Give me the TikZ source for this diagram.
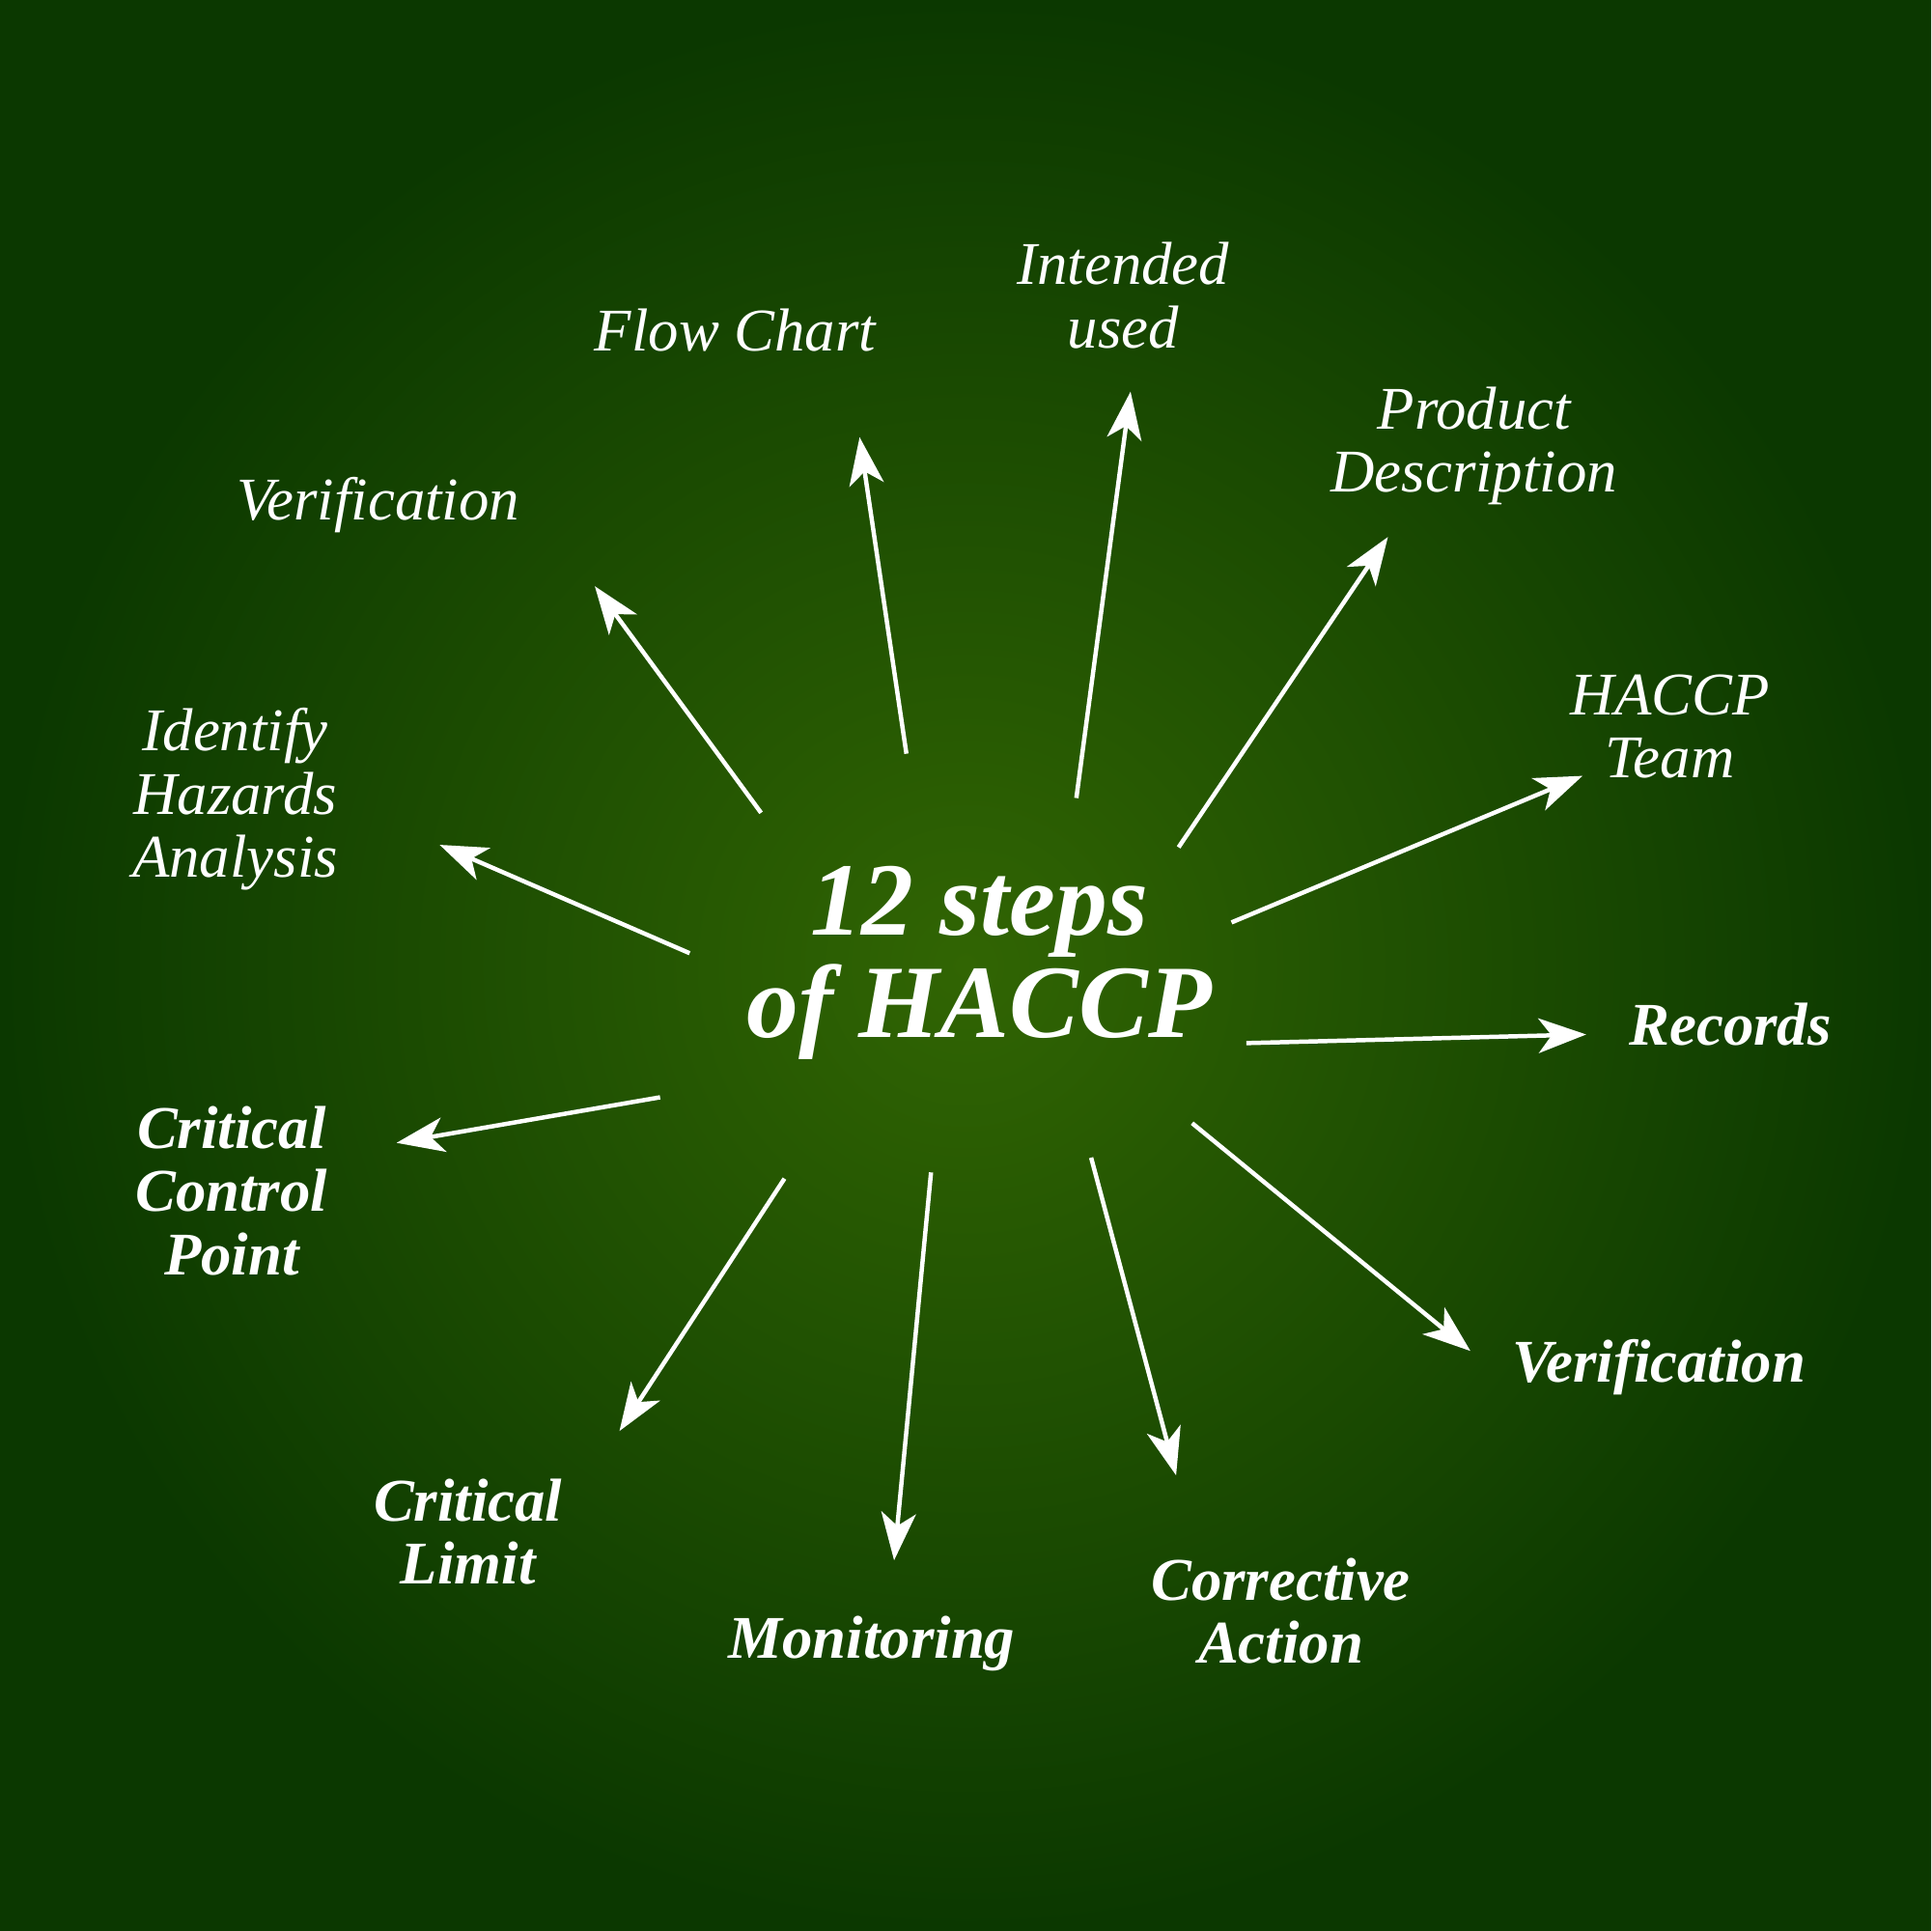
\documentclass[tikz,border=0pt]{standalone}
\usepackage{fontspec}
\setmainfont{Liberation Serif}
\usetikzlibrary{arrows.meta}
\definecolor{inner}{HTML}{316503}
\definecolor{outer}{HTML}{0B3800}
\begin{document}
\begin{tikzpicture}[x=0.01cm,y=-0.01cm,
  arr/.style={draw=white,line width=1pt,-{Stealth[length=11pt,width=8pt,inset=3pt]}},
  lab/.style={text=white,font=\fontsize{14}{14.6}\selectfont\itshape,align=center,inner sep=0pt},
  blab/.style={lab,font=\fontsize{14}{14.6}\selectfont\bfseries\itshape}]
\shade[inner color=inner,outer color=outer] (0,0) rectangle (1568,1568);
\useasboundingbox (0,0) rectangle (1568,1568);
\node[text=white,font=\fontsize{24}{23.5}\selectfont\bfseries\itshape,align=center,inner sep=0pt] (t) at (795,782) {12 steps\\ of HACCP};
\foreach \n/\a/\b/\c/\d in {1/736/612/698/355, 2/874/648/918/318, 3/957/688/1127/436, 4/1000/749/1285/630, 5/1012/847/1288/840, 6/968/912/1194/1097, 7/886/940/955/1198, 8/756/952/726/1267, 9/637/957/503/1162, 10/536/891/322/928, 11/560/774/357/686, 12/618/660/483/476}{
  \coordinate (s\n) at (\a,\b); \coordinate (e\n) at (\c,\d);
  \draw[arr] (s\n) -- (e\n);}
\node[lab] (fc) at (597,268) {Flow Chart};
\node[lab] (iu) at (912,240) {Intended\\ used};
\node[lab] (pd) at (1197,362) {Product\\ Description};
\node[lab] (ht) at (1356,590) {HACCP\\ Team};
\node[blab] (rc) at (1405,832) {Records};
\node[blab] (vr) at (1347,1110) {Verification};
\node[blab] (ca) at (1040,1308) {Corrective\\ Action};
\node[blab] (mo) at (708,1335) {Monitoring};
\node[blab] (cl) at (380,1244) {Critical\\ Limit};
\node[blab] (cc) at (188,967) {Critical\\ Control\\ Point};
\node[lab] (ih) at (191,649) {Identify\\ Hazards\\ Analysis};
\node[lab] (vl) at (307,410) {Verification};
\end{tikzpicture}
\end{document}
